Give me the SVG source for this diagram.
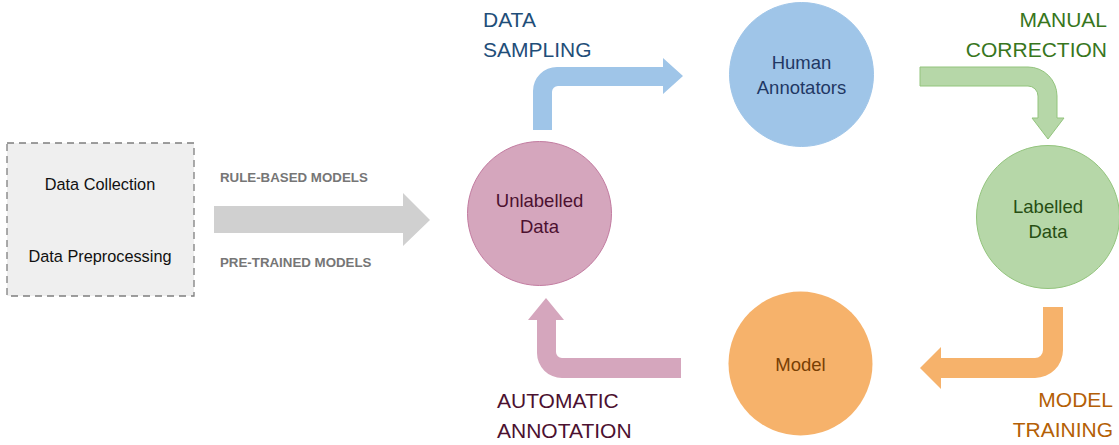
<svg xmlns="http://www.w3.org/2000/svg" width="1119" height="445" viewBox="0 0 1119 445">
<style>
text{font-family:"Liberation Sans",Arial,sans-serif}
.box{fill:#efefef;stroke:#7f7f7f;stroke-width:1.3;stroke-dasharray:7 5}
.bt{font-size:16.3px;fill:#111;text-anchor:middle}
.gl{font-size:13.3px;font-weight:bold;fill:#767676}
.ct{font-size:18.5px;text-anchor:middle}
.lab{font-size:21px}
</style>
<rect width="1119" height="445" fill="#fff"/>
<g id="source">
<rect class="box" x="7" y="143" width="187" height="153"/>
<text class="bt" x="100" y="190">Data Collection</text>
<text class="bt" x="100" y="262">Data Preprocessing</text>
</g>
<g id="connectors">
<path d="M214,206 L403,206 L403,193 L430,220 L403,246 L403,233 L214,233 Z" fill="#d0d0d0"/>
<path d="M533,130 L533,91 A24,24 0 0 1 557,67 L663,67 L663,58 L683,76 L663,94 L663,86 L558,86 A6,6 0 0 0 552,92 L552,130 Z" fill="#9fc5e8"/>
<path d="M920,67 L1028,67 A29,29 0 0 1 1057,96 L1057,118 L1064,118 L1048,139 L1032,118 L1038,118 L1038,96 A10,10 0 0 0 1028,86 L920,86 Z" fill="#b6d7a8" stroke="#93c47d" stroke-width="1"/>
<path d="M1043,307 L1063,307 L1063,350 A28,28 0 0 1 1035,378 L941,378 L941,389 L920,368 L941,347 L941,358 L1035,358 A8,8 0 0 0 1043,350 Z" fill="#f6b26b"/>
<path d="M681,358 L681,378 L562,378 A25,25 0 0 1 537,353 L537,320 L528,320 L546,298 L564,320 L556,320 L556,352 A6,6 0 0 0 562,358 Z" fill="#d5a6bd"/>
<text class="gl" x="220" y="182">RULE-BASED MODELS</text>
<text class="gl" x="220" y="267">PRE-TRAINED MODELS</text>
<text class="lab" x="483" y="27" fill="#1f4e79">DATA</text>
<text class="lab" x="483" y="57" fill="#1f4e79">SAMPLING</text>
<text class="lab" x="1107" y="27" fill="#38761d" text-anchor="end">MANUAL</text>
<text class="lab" x="1107" y="57" fill="#38761d" text-anchor="end">CORRECTION</text>
<text class="lab" x="1113" y="407" fill="#b45f06" text-anchor="end">MODEL</text>
<text class="lab" x="1113" y="437" fill="#b45f06" text-anchor="end">TRAINING</text>
<text class="lab" x="497" y="408" fill="#4c1130">AUTOMATIC</text>
<text class="lab" x="497" y="438" fill="#4c1130">ANNOTATION</text>
</g>
<g id="unlabelled">
<circle cx="539.5" cy="213.5" r="72" fill="#d5a6bd" stroke="#c27ba0" stroke-width="1"/>
<text class="ct" x="539.5" y="207" fill="#4c1130">Unlabelled</text>
<text class="ct" x="539.5" y="233" fill="#4c1130">Data</text>
</g>
<g id="human">
<circle cx="801.5" cy="74.5" r="72" fill="#9fc5e8" stroke="#9fc5e8" stroke-width="1"/>
<text class="ct" x="801.5" y="69" fill="#1f3864">Human</text>
<text class="ct" x="801.5" y="94" fill="#1f3864">Annotators</text>
</g>
<g id="labelled">
<circle cx="1048" cy="217" r="71.5" fill="#b6d7a8" stroke="#93c47d" stroke-width="1"/>
<text class="ct" x="1048" y="213" fill="#274e13">Labelled</text>
<text class="ct" x="1048" y="238" fill="#274e13">Data</text>
</g>
<g id="model">
<circle cx="800.5" cy="363.5" r="72" fill="#f6b26b"/>
<text class="ct" x="800.5" y="371" fill="#783f04">Model</text>
</g>
</svg>
